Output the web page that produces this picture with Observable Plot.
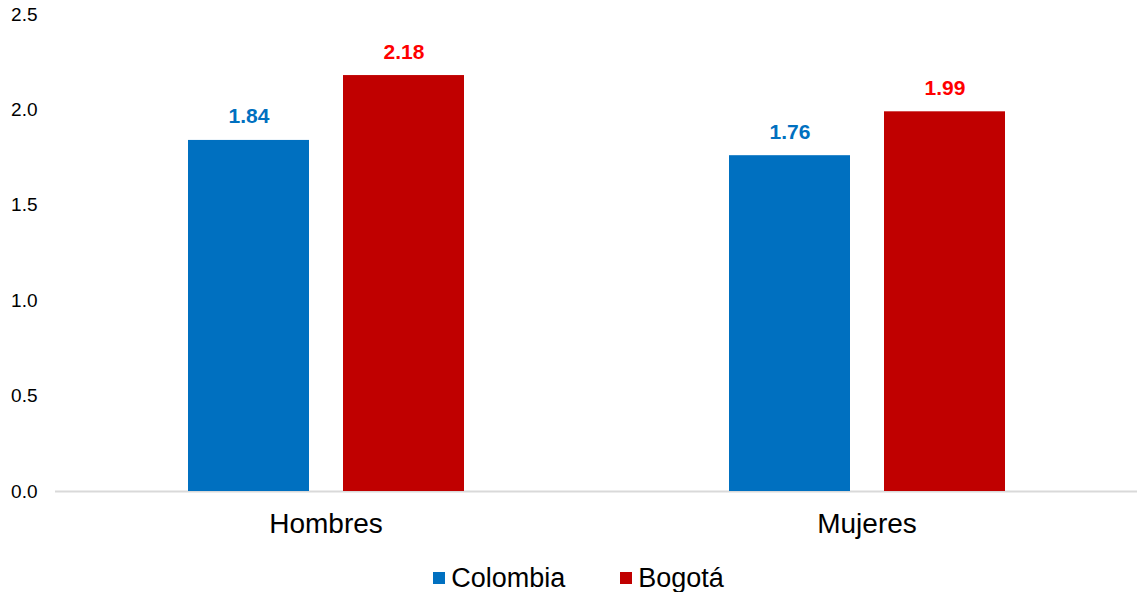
<!DOCTYPE html>
<html>
<head>
<meta charset="utf-8">
<script src="https://cdn.jsdelivr.net/npm/d3@7"></script>
<script src="https://cdn.jsdelivr.net/npm/@observablehq/plot@0.6"></script>
<style>
  body { margin: 0; background: #fff; font-family: "Liberation Sans", Arial, sans-serif; }
  #legend { display: flex; justify-content: center; align-items: center; height: 56px; font-size: 27px; color: #000; padding-left: 18px; }
  .item { display: flex; align-items: center; }
  .sw { width: 12px; height: 12px; margin-right: 6px; }
</style>
</head>
<body>
<div id="chart"></div>
<div id="legend"></div>
<script>
const categories = ["Hombres", "Mujeres"];
const series = ["Colombia", "Bogotá"];
const colombia = [1.84, 1.76];
const bogota = [2.18, 1.99];
const yTicks = [0, 0.5, 1.0, 1.5, 2.0, 2.5];
const barColors = ["#0070C0", "#C00000"];
const labelColors = ["#0070C0", "#FF0000"];

const data = categories.flatMap((c, i) => [
  {cat: c, s: series[0], v: colombia[i]},
  {cat: c, s: series[1], v: bogota[i]}
]);

const chart = Plot.plot({
  width: 1139,
  height: 550,
  marginLeft: 55,
  marginRight: 2,
  marginTop: 14,
  marginBottom: 59,
  style: {fontFamily: "'Liberation Sans', Arial, sans-serif", fontSize: "19px", color: "#000", background: "#fff"},
  fx: {domain: categories, padding: 0, label: null},
  x: {domain: series, paddingInner: 0.22, paddingOuter: 0.855, axis: null},
  y: {domain: [0, 2.5], label: null},
  color: {domain: series, range: barColors},
  marks: [
    Plot.axisY({ticks: yTicks, tickFormat: d => d.toFixed(1), tickSize: 0, tickPadding: 18, fontSize: 19, label: null}),
    Plot.axisFx({anchor: "bottom", tickSize: 0, tickPadding: 22, fontSize: 28, label: null}),
    Plot.ruleY([0], {stroke: "#d9d9d9", strokeWidth: 2}),
    Plot.barY(data, {fx: "cat", x: "s", y: "v", fill: "s"}),
    Plot.text(data, {
      fx: "cat", x: "s", y: "v",
      text: d => d.v.toFixed(2),
      lineAnchor: "bottom", dy: -17,
      fill: d => labelColors[series.indexOf(d.s)],
      fontWeight: "bold", fontSize: 21
    })
  ]
});
document.getElementById("chart").appendChild(chart);

const legend = document.getElementById("legend");
series.forEach((s, i) => {
  const item = document.createElement("div");
  item.className = "item";
  if (i > 0) item.style.marginLeft = "55px";
  const sw = document.createElement("span");
  sw.className = "sw";
  sw.style.background = barColors[i];
  const t = document.createElement("span");
  t.textContent = s;
  item.appendChild(sw);
  item.appendChild(t);
  legend.appendChild(item);
});
</script>
</body>
</html>
